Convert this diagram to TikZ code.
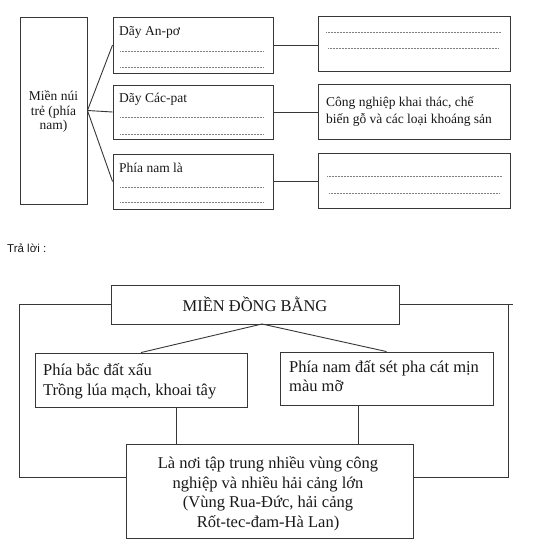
\documentclass[tikz,border=0pt]{standalone}
\usepackage{fontspec}
\setmainfont{Liberation Serif}
\newfontfamily\sansf{Liberation Sans}
\definecolor{lc}{RGB}{55,55,55}
\definecolor{tc}{RGB}{25,25,25}
\begin{document}
\begin{tikzpicture}[x=1pt,y=-1pt,
  box/.style={draw=lc,line width=0.9pt,inner sep=0pt,rectangle},
  conn/.style={draw=lc,line width=0.9pt},
  dotl/.style={draw=gray,line width=0.5pt,dash pattern=on 0.5pt off 1pt},
  small/.style={font=\fontsize{13.5}{14.5}\selectfont,text=tc,inner sep=0pt},
  big/.style={font=\fontsize{16.5}{19.5}\selectfont,text=tc,inner sep=0pt}]
\useasboundingbox[fill=white] (0,0) rectangle (546,551);

% ---------- top part ----------
\node[box,minimum width=67pt,minimum height=187pt] (L) at (53.5,110.5) {};
\node[small,align=center] (Lt) at (53.5,112) {Miền núi\\trẻ (phía\\nam)};

\node[box,minimum width=160pt,minimum height=56pt] (M1) at (193,45) {};
\node[box,minimum width=160pt,minimum height=54pt] (M2) at (193,112) {};
\node[box,minimum width=160pt,minimum height=55pt] (M3) at (193,181.5) {};

\node[small,anchor=base west] (M1t) at (119,36) {Dãy An-pơ};
\node[small,anchor=base west] (M2t) at (119,102) {Dãy Các-pat};
\node[small,anchor=base west] (M3t) at (119,172) {Phía nam là};

\draw[dotl] (120,51) -- (264,51);
\draw[dotl] (120,67) -- (264,67);
\draw[dotl] (120,117) -- (264,117);
\draw[dotl] (120,134) -- (264,134);
\draw[dotl] (120,187) -- (264,187);
\draw[dotl] (120,202) -- (264,202);

\node[box,minimum width=192pt,minimum height=55pt] (R1) at (414,43.5) {};
\node[box,minimum width=192pt,minimum height=55pt] (R2) at (414,111.5) {};
\node[box,minimum width=192pt,minimum height=55pt] (R3) at (414,180.5) {};

\draw[dotl] (326,32) -- (501,32);
\draw[dotl] (328,48) -- (499,48);
\draw[dotl] (327,176) -- (502,176);
\draw[dotl] (329,193) -- (500,193);

\node[small,anchor=base west,align=left,font=\fontsize{13.5}{17}\selectfont] (R2t) at (326,123) {Công nghiệp khai thác, chế\\biến gỗ và các loại khoáng sản};

\draw[conn] (L.east) -- (M1.west);
\draw[conn] (L.east) -- (M2.west);
\draw[conn] (L.east) -- (M3.west);
\draw[conn] (M1.east) -- (M1.east -| R1.west);
\draw[conn] (M2.east) -- (M2.east -| R2.west);
\draw[conn] (M3.east) -- (M3.east -| R3.west);

% ---------- answer ----------
\node[anchor=west,inner sep=0pt,font=\sansf\fontsize{11.5}{13}\selectfont,text=tc] (ans) at (7,248) {Trả lời :};

% ---------- bottom part ----------
\node[box,minimum width=288pt,minimum height=39pt,big] (T) at (255,304.5) {MIỀN ĐỒNG BẰNG};
\node[box,minimum width=212pt,minimum height=54pt] (A) at (141,380) {};
\node[box,minimum width=213pt,minimum height=53pt] (B) at (386.5,378.5) {};
\node[box,minimum width=287pt,minimum height=94pt] (C) at (269.5,491) {};

\node[big,anchor=base west,align=left] (At) at (43,395) {Phía bắc đất xấu\\Trồng lúa mạch, khoai tây};
\node[big,anchor=base west,align=left] (Bt) at (289,391.5) {Phía nam đất sét pha cát mịn\\màu mỡ};
\node[big,align=center] (Ct) at (268,494) {Là nơi tập trung nhiều vùng công\\nghiệp và nhiều hải cảng lớn\\(Vùng Rua-Đức, hải cảng\\Rốt-tec-đam-Hà Lan)};

\coordinate (ts) at (262,324);
\coordinate (av) at (176,0);
\coordinate (bv) at (358,0);
\coordinate (ol) at (19,477);
\coordinate (orr) at (508,477);
\coordinate (oe) at (513,0);

\draw[conn] (ts) -- (A.north);
\draw[conn] (ts) -- (B.north);
\draw[conn] (A.south -| av) -- (C.north -| av);
\draw[conn] (B.south -| bv) -- (C.north -| bv);
\draw[conn] (T.west) -| (ol) -- (ol -| C.west);
\draw[conn] (T.east) -- (T.east -| oe);
\draw[conn] (T.east -| orr) -- (orr) -- (orr -| C.east);
\end{tikzpicture}
\end{document}
